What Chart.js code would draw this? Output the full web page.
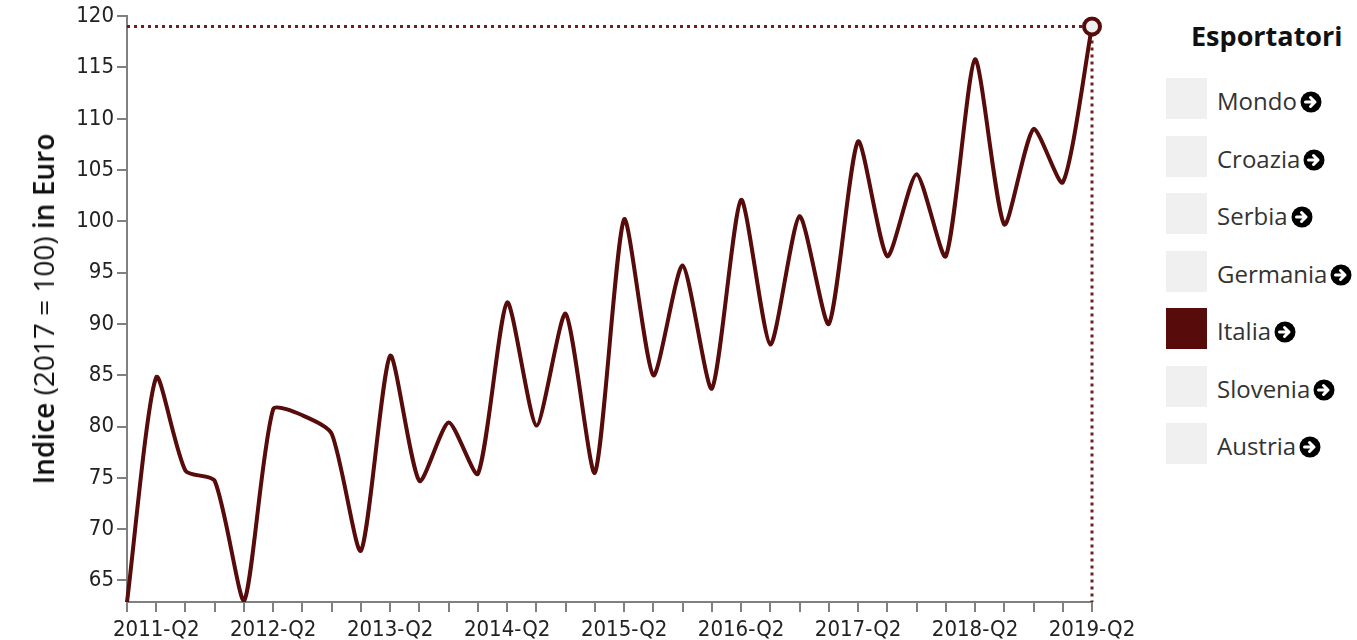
<!DOCTYPE html>
<html lang="it">
<head>
<meta charset="utf-8">
<title>Esportatori - Italia</title>
<script src="https://cdn.jsdelivr.net/npm/chart.js@4/dist/chart.umd.min.js"></script>
<style>
  body { margin: 0; background: #fff; font-family: "Open Sans", sans-serif; }
  #grafico { position: absolute; left: 0; top: 0; }
  #titoloY {
    position: absolute; left: 43px; top: 309px;
    transform: translate(-50%, -50%) rotate(-90deg);
    white-space: nowrap; font-size: 28px; color: #111;
  }
  #titoloY b { font-weight: 600; }
  #legenda { position: absolute; left: 0; top: 0; }
  #legenda h3 {
    position: absolute; left: 1191px; top: 22px; margin: 0;
    font-size: 27px; line-height: 27px; font-weight: 700; color: #111; white-space: nowrap;
  }
  .voce { position: absolute; left: 1166px; height: 41px; white-space: nowrap; }
  .quadrato { position: absolute; left: 0; top: 0; width: 41px; height: 41px; background: #f0f0f0; }
  .etichetta {
    position: absolute; left: 51px; top: 11px; font-size: 24px; line-height: 23px; color: #333;
  }
  .etichetta svg { vertical-align: -3px; margin-left: 3px; }
</style>
</head>
<body>
<canvas id="grafico" width="1150" height="640"></canvas>
<div id="titoloY"><b>Indice</b> (2017 = 100) <b>in Euro</b></div>
<div id="legenda"><h3>Esportatori</h3></div>

<script>
// dati: indice trimestrale delle esportazioni italiane
const trimestri = [
  "2011-Q1", "2011-Q2", "2011-Q3", "2011-Q4",
  "2012-Q1", "2012-Q2", "2012-Q3", "2012-Q4",
  "2013-Q1", "2013-Q2", "2013-Q3", "2013-Q4",
  "2014-Q1", "2014-Q2", "2014-Q3", "2014-Q4",
  "2015-Q1", "2015-Q2", "2015-Q3", "2015-Q4",
  "2016-Q1", "2016-Q2", "2016-Q3", "2016-Q4",
  "2017-Q1", "2017-Q2", "2017-Q3", "2017-Q4",
  "2018-Q1", "2018-Q2", "2018-Q3", "2018-Q4",
  "2019-Q1", "2019-Q2"
];

const italia = [
  62.9, 84.8, 75.7, 74.7,
  63.0, 81.7, 81.1, 79.3,
  67.9, 86.9, 74.7, 80.4,
  75.4, 92.1, 80.1, 91.0,
  75.5, 100.2, 85.0, 95.7,
  83.7, 102.1, 88.0, 100.5,
  90.0, 107.8, 96.6, 104.6,
  96.6, 115.8, 99.7, 109.0,
  103.8, 119.0
];

const yTicks = [65, 70, 75, 80, 85, 90, 95, 100, 105, 110, 115, 120];

const esportatori = ["Mondo", "Croazia", "Serbia", "Germania", "Italia", "Slovenia", "Austria"];
const selezionato = "Italia";

const rosso = "#570b0b";
const grigioAsse = "#808080";
const fontTick = { family: "'DejaVu Sans Condensed', 'DejaVu Sans', sans-serif", size: 22 };

// legenda fatta a mano in html
const legenda = document.getElementById("legenda");
const freccia = '<svg width="22" height="22" viewBox="0 0 22 22"><circle cx="11" cy="11" r="10.5" fill="#000"/>' +
  '<path d="M5.5 11h9.5 M10.5 6.5l4.5 4.5-4.5 4.5" stroke="#fff" stroke-width="3" fill="none" stroke-linecap="round" stroke-linejoin="round"/></svg>';
esportatori.forEach((nome, i) => {
  const voce = document.createElement("div");
  voce.className = "voce";
  voce.style.top = (78 + i * 57.5) + "px";
  voce.innerHTML = `<div class="quadrato" style="${nome === selezionato ? "background:" + rosso : ""}"></div>
    <div class="etichetta">${nome}${freccia}</div>`;
  legenda.appendChild(voce);
});

// linee tratteggiate verso l'ultimo punto
const lineeUltimo = {
  id: "lineeUltimo",
  beforeDatasetsDraw(chart) {
    const meta = chart.getDatasetMeta(0);
    const p = meta.data[meta.data.length - 1];
    const area = chart.chartArea;
    const ctx = chart.ctx;
    ctx.save();
    ctx.strokeStyle = "rgba(100, 20, 20, 0.95)";
    ctx.lineWidth = 3;
    ctx.setLineDash([3, 4]);
    ctx.beginPath();
    ctx.moveTo(area.left, p.y);
    ctx.lineTo(p.x, p.y);
    ctx.moveTo(p.x, p.y);
    ctx.lineTo(p.x, area.bottom);
    ctx.stroke();
    ctx.restore();
  }
};

const config = {
  type: "line",
  data: {
    labels: trimestri,
    datasets: [{
      label: "Italia",
      data: italia,
      borderColor: rosso,
      borderWidth: 4,
      tension: 0.22,
      borderCapStyle: "round",
      borderJoinStyle: "round",
      pointRadius: italia.map((v, i) => i === italia.length - 1 ? 8 : 0),
      pointHoverRadius: 0,
      pointBackgroundColor: "#f0f0f0",
      pointBorderColor: rosso,
      pointBorderWidth: 4
    }]
  },
  options: {
    responsive: false,
    animation: false,
    layout: { padding: { top: 15, right: 58, left: 0, bottom: 0 } },
    plugins: { legend: { display: false }, tooltip: { enabled: false } },
    scales: {
      x: {
        type: "category",
        offset: false,
        afterFit: (s) => { s.height = 38; },
        grid: { drawOnChartArea: false, drawTicks: true, tickLength: 10, color: grigioAsse, lineWidth: 2 },
        border: { color: grigioAsse, width: 2 },
        ticks: {
          autoSkip: false, maxRotation: 0, minRotation: 0, padding: 5,
          color: "#222", font: fontTick,
          callback: (v, i) => trimestri[i].endsWith("Q2") ? trimestri[i] : ""
        }
      },
      y: {
        type: "linear",
        min: 62.9,
        max: 120,
        afterFit: (s) => { s.width = 127; },
        afterBuildTicks: (s) => { s.ticks = yTicks.map((v) => ({ value: v })); },
        grid: { drawOnChartArea: false, drawTicks: true, tickLength: 10, color: grigioAsse, lineWidth: 2 },
        border: { color: grigioAsse, width: 2 },
        ticks: { padding: 3, color: "#222", font: fontTick }
      }
    }
  },
  plugins: [lineeUltimo]
};

const myChart = new Chart(document.getElementById("grafico"), config);
</script>
</body>
</html>
